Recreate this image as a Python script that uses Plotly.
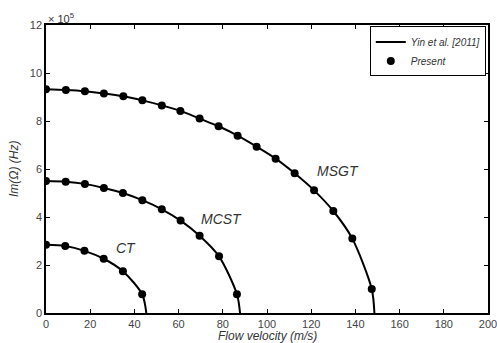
import plotly.graph_objects as go

# Flow velocity (m/s) and Im(Omega) in units of 1e5 Hz
ct_u = [0, 8.7, 17.4, 26.1, 34.8, 43.5]
ct_im = [2.84, 2.79, 2.59, 2.26, 1.74, 0.78]
ct_uc = 45.4

mcst_u = [0, 8.9, 17.6, 26.2, 34.8, 43.6, 52.4, 60.9, 69.5, 78.3, 86.4]
mcst_im = [5.5, 5.47, 5.38, 5.21, 5.0, 4.70, 4.32, 3.85, 3.22, 2.36, 0.78]
mcst_uc = 87.8

msgt_u = [0, 9.0, 17.6, 26.2, 35.0, 43.6, 52.4, 60.8, 69.5, 78.1, 86.7, 95.3,
          103.9, 112.5, 121.3, 130.0, 138.6, 147.4]
msgt_im = [9.32, 9.29, 9.24, 9.15, 9.03, 8.86, 8.65, 8.42, 8.10, 7.78, 7.39, 6.93,
           6.43, 5.82, 5.11, 4.25, 3.10, 1.0]
msgt_uc = 148.6

labels = ["CT", "MCST", "MSGT"]
label_u = [36, 79.5, 132]
label_im = [2.7, 3.9, 5.9]

x_ticks = [0, 20, 40, 60, 80, 100, 120, 140, 160, 180, 200]
y_ticks = [0, 2, 4, 6, 8, 10, 12]

FONT = "Liberation Sans, Arial, sans-serif"

fig = go.Figure()
series = [(ct_u, ct_im, ct_uc), (mcst_u, mcst_im, mcst_uc), (msgt_u, msgt_im, msgt_uc)]
for i, (u, im, uc) in enumerate(series):
    fig.add_trace(go.Scatter(
        x=u + [uc], y=im + [0], mode="lines",
        line=dict(color="black", width=2, shape="spline", smoothing=0.8),
        name="<i>Yin et al. [2011]</i>", legendgroup="yin", showlegend=(i == 0)))
for i, (u, im, uc) in enumerate(series):
    fig.add_trace(go.Scatter(
        x=u, y=im, mode="markers",
        marker=dict(color="black", size=8),
        name="<i>Present</i>", legendgroup="present", showlegend=(i == 0)))

for t, xu, yi in zip(labels, label_u, label_im):
    fig.add_annotation(x=xu, y=yi, text=f"<i>{t}</i>", showarrow=False,
                       font=dict(size=14, color="#333", family=FONT))

fig.add_annotation(xref="paper", yref="paper", x=0, y=1, xanchor="left", yanchor="bottom",
                   text="× 10<sup>5</sup>", showarrow=False, yshift=-2,
                   font=dict(size=11, color="#333", family=FONT))

# axis titles as annotations for precise placement
fig.add_annotation(xref="paper", yref="paper", x=0.5, y=0, yshift=-23, yanchor="middle",
                   text="<i>Flow velocity (m/s)</i>", showarrow=False,
                   font=dict(size=12, color="#333", family=FONT))
fig.add_annotation(xref="paper", yref="paper", x=0, y=0.5, xshift=-32, xanchor="center",
                   text="<i>Im(Ω) (Hz)</i>", showarrow=False, textangle=-90,
                   font=dict(size=12, color="#333", family=FONT))

axis_common = dict(showline=True, linecolor="black", linewidth=1.5, mirror="ticks",
                   ticks="inside", ticklen=4, tickcolor="black", showgrid=False,
                   zeroline=False, automargin=False, ticklabeloverflow="allow",
                   tickfont=dict(size=11, color="#444", family=FONT))

fig.update_layout(
    width=497, height=343,
    margin=dict(l=46, r=9, t=25, b=30, autoexpand=False),
    paper_bgcolor="white", plot_bgcolor="white",
    font=dict(family=FONT, color="#333"),
    xaxis=dict(range=[0, 200], tickvals=x_ticks, ticktext=[str(v) for v in x_ticks],
               **axis_common),
    yaxis=dict(range=[0, 12], tickvals=y_ticks, ticktext=[str(v) for v in y_ticks],
               **axis_common),
    legend=dict(x=0.995, y=0.995, xanchor="right", yanchor="top",
                bordercolor="black", borderwidth=1, bgcolor="white",
                font=dict(size=10, family=FONT, color="#333"),
                itemwidth=30, tracegroupgap=0),
    showlegend=True,
)

fig.write_html("out.html", config={"displayModeBar": False},
               post_script="document.body.style.margin='0';document.body.style.padding='0';")
